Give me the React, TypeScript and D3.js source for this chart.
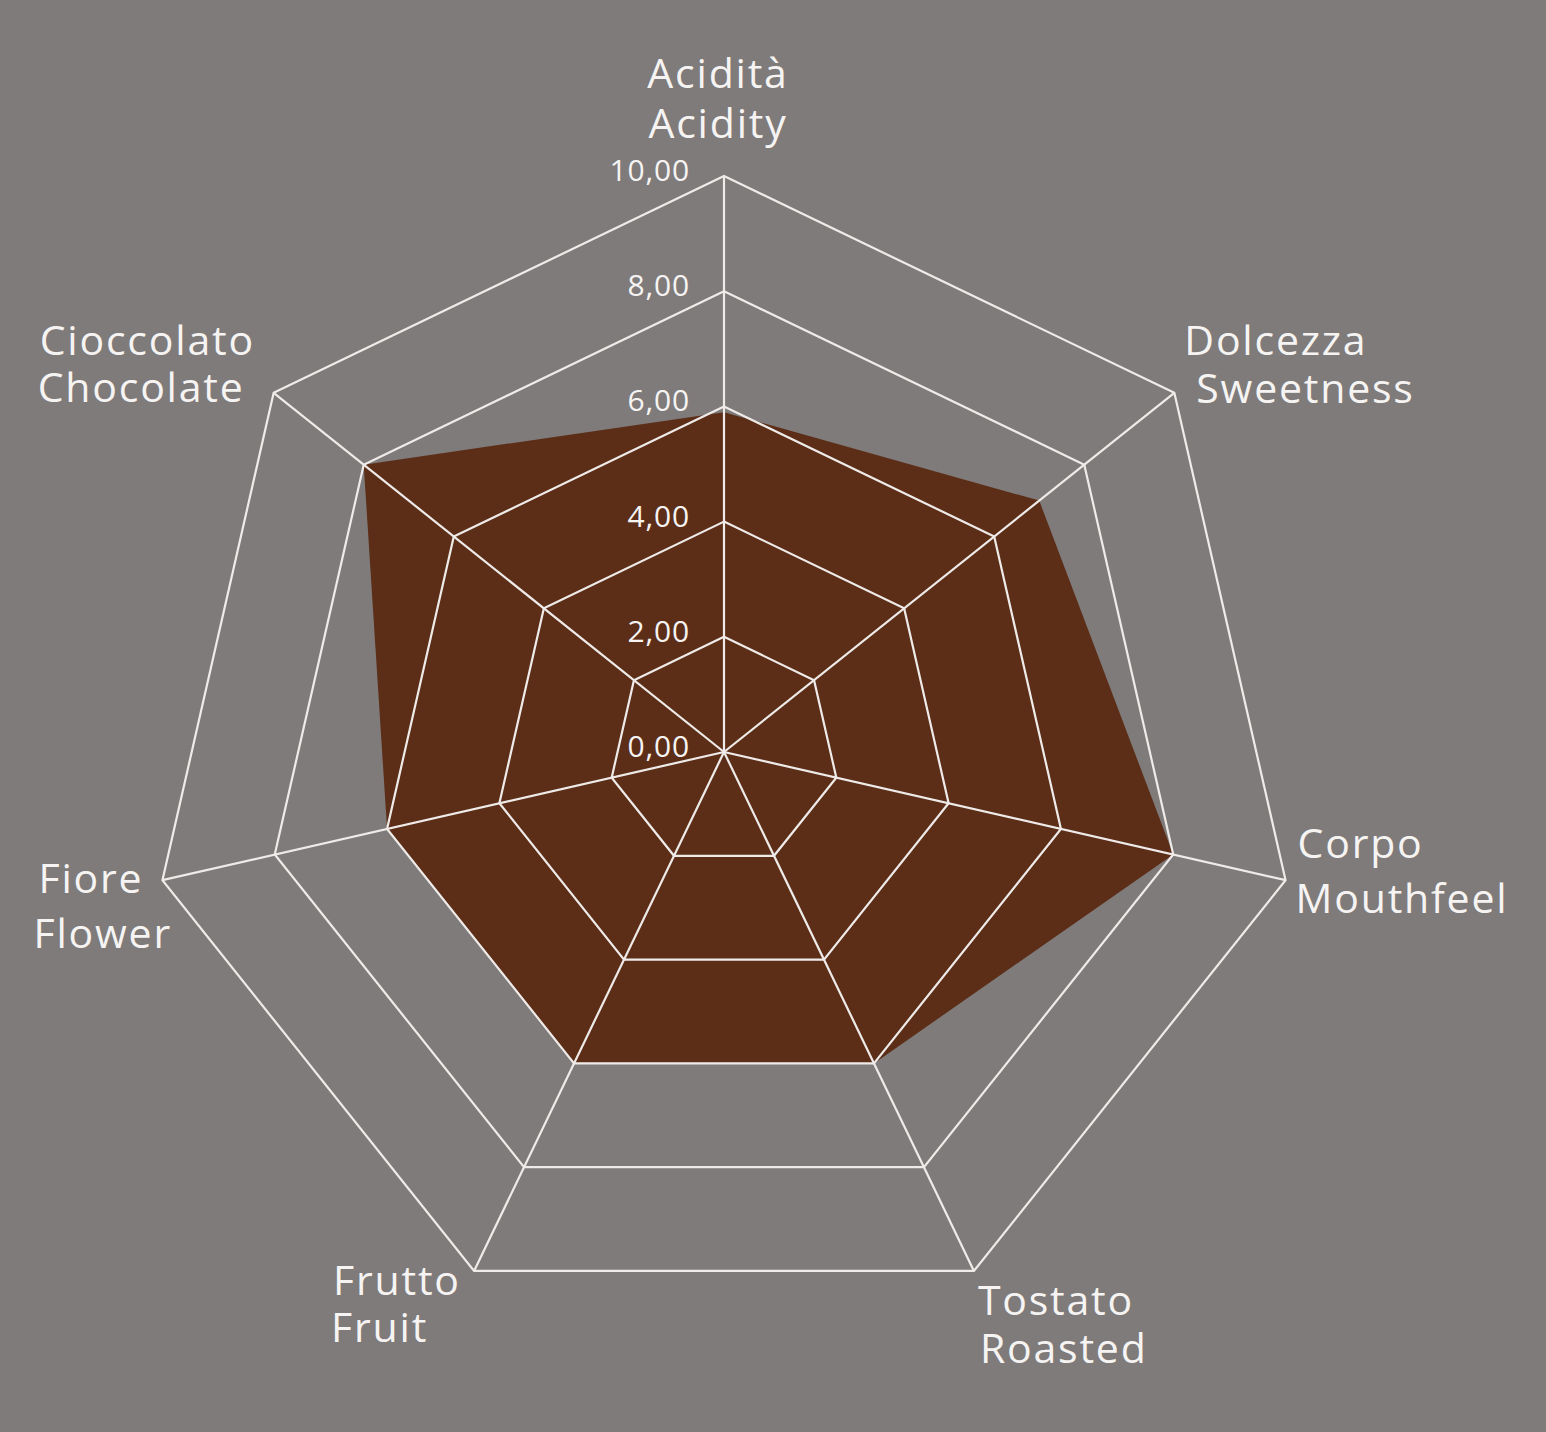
import React, { useEffect } from "react";
import * as d3 from "d3";

const AXES_IT = ["Acidità", "Dolcezza", "Corpo", "Tostato", "Frutto", "Fiore", "Cioccolato"];
const AXES_EN = ["Acidity", "Sweetness", "Mouthfeel", "Roasted", "Fruit", "Flower", "Chocolate"];
const VALUES = [5.9, 7.0, 8.0, 6.0, 6.0, 6.0, 8.0];
const TICKS = [0, 2, 4, 6, 8, 10];

// label layout (offsets from the outer vertex of each axis): [dx1, dy1, dx2, dy2, anchor]
const LABEL_LAYOUT: [number, number, number, number, string][] = [
  [-6, -88, -6, -38, "middle"],
  [10, -38, 22, 10, "start"],
  [12, -22, 10, 33, "start"],
  [4, 44, 6, 92, "start"],
  [-141, 24, -143, 71, "start"],
  [-124, 13, -129, 68, "start"],
  [-234, -38, -236, 9, "start"],
];

const W = 1546;
const H = 1432;
const CX = 724;
const CY = 752;
const R = 576;
const BG = "#7f7b7a";
const FILL = "#5c2e18";
const GRID = "#efebe9";
const TEXT = "#f6f4f3";
const FONT = "'Open Sans', 'DejaVu Sans', sans-serif";

export default function App() {
  useEffect(() => {
    document.body.style.margin = "0";
    document.body.style.background = BG;
  }, []);

  const n = AXES_EN.length;
  const r = d3.scaleLinear().domain([0, 10]).range([0, R]);
  const angle = (i: number) => (i * 2 * Math.PI) / n;
  const pt = (i: number, v: number): [number, number] => [
    CX + r(v) * Math.sin(angle(i)),
    CY - r(v) * Math.cos(angle(i)),
  ];

  const radial = d3
    .lineRadial<number>()
    .angle((_, i) => angle(i))
    .radius((d) => r(d))
    .curve(d3.curveLinearClosed);

  const dataPath = radial(VALUES) || "";
  const fmt = (t: number) => t.toFixed(2).replace(".", ",");

  return (
    <svg width={W} height={H} style={{ display: "block", background: BG }}>
      <rect x={0} y={0} width={W} height={H} fill={BG} />
      <g transform={`translate(${CX},${CY})`}>
        <path d={dataPath} fill={FILL} stroke="none" />
        {TICKS.filter((t) => t > 0).map((t) => (
          <path
            key={t}
            d={radial(AXES_EN.map(() => t)) || ""}
            fill="none"
            stroke={GRID}
            strokeWidth={2.2}
          />
        ))}
      </g>
      {AXES_EN.map((_, i) => {
        const [x, y] = pt(i, 10);
        return <line key={i} x1={CX} y1={CY} x2={x} y2={y} stroke={GRID} strokeWidth={2.2} />;
      })}
      {TICKS.map((t) => {
        const [, y] = pt(0, t);
        return (
          <text
            key={t}
            x={CX - 34}
            y={y + 5}
            textAnchor="end"
            fontFamily={FONT}
            fontSize={30}
            fontWeight={500}
            letterSpacing={0.8}
            fill={TEXT}
          >
            {fmt(t)}
          </text>
        );
      })}
      {AXES_EN.map((en, i) => {
        const [x, y] = pt(i, 10);
        const [dx1, dy1, dx2, dy2, anchor] = LABEL_LAYOUT[i];
        return (
          <g
            key={en}
            fontFamily={FONT}
            fontSize={41}
            fontWeight={500}
            letterSpacing={1.8}
            fill={TEXT}
            textAnchor={anchor}
          >
            <text x={x + dx1} y={y + dy1}>{AXES_IT[i]}</text>
            <text x={x + dx2} y={y + dy2}>{en}</text>
          </g>
        );
      })}
    </svg>
  );
}
